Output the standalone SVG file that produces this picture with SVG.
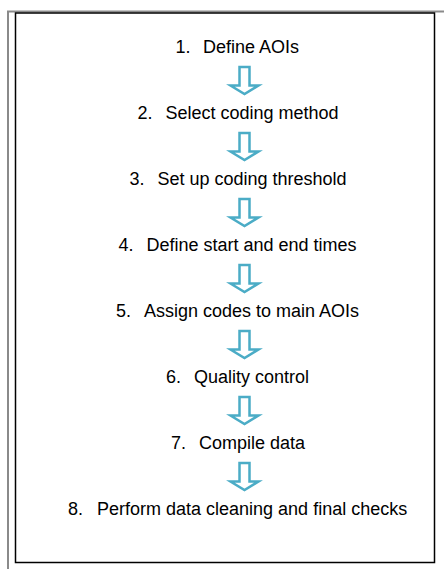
<svg xmlns="http://www.w3.org/2000/svg" width="444" height="569" viewBox="0 0 444 569">
  <defs>
    <style>
      .step { font-family: "Liberation Sans", Arial, sans-serif; font-size: 18px; fill: #000; }
      .arrow { fill: #fff; stroke: #4BACC6; stroke-width: 2.5; stroke-linejoin: miter; }
      .frame { fill: none; stroke: #8a8a8a; stroke-width: 2; }
      .box { fill: none; stroke: #000; stroke-width: 1.5; }
    </style>
    <!-- hollow block arrow pointing down, drawn around x = 0 -->
    <path id="downArrow" class="arrow" d="M-5.5,0 H4.5 V18.5 H13.5 L-0.5,27 L-14.5,18.5 H-5.5 Z"/>
  </defs>

  <rect width="444" height="569" fill="#fff"/>

  <!-- page frame -->
  <path class="frame" d="M8,569 V11.5 H444"/>
  <rect class="box" x="15.5" y="13" width="419" height="549.5"/>

  <!-- connectors between steps -->
  <g id="connectors">
    <use href="#downArrow" x="245" y="67"/>
    <use href="#downArrow" x="245" y="133"/>
    <use href="#downArrow" x="245" y="199"/>
    <use href="#downArrow" x="245" y="265"/>
    <use href="#downArrow" x="245" y="331"/>
    <use href="#downArrow" x="245" y="397"/>
    <use href="#downArrow" x="245" y="463"/>
  </g>

  <!-- steps -->
  <g id="step1"><text class="step" x="175.5" y="53">1.</text><text class="step" x="203" y="53">Define AOIs</text></g>
  <g id="step2"><text class="step" x="137.5" y="119">2.</text><text class="step" x="165.5" y="119">Select coding method</text></g>
  <g id="step3"><text class="step" x="129.5" y="185">3.</text><text class="step" x="157.5" y="185">Set up coding threshold</text></g>
  <g id="step4"><text class="step" x="118.5" y="251">4.</text><text class="step" x="146.5" y="251">Define start and end times</text></g>
  <g id="step5"><text class="step" x="116" y="317">5.</text><text class="step" x="144" y="317">Assign codes to main AOIs</text></g>
  <g id="step6"><text class="step" x="166" y="383">6.</text><text class="step" x="194" y="383">Quality control</text></g>
  <g id="step7"><text class="step" x="171" y="449">7.</text><text class="step" x="199" y="449">Compile data</text></g>
  <g id="step8"><text class="step" x="68" y="515">8.</text><text class="step" x="97" y="515">Perform data cleaning and final checks</text></g>
</svg>
